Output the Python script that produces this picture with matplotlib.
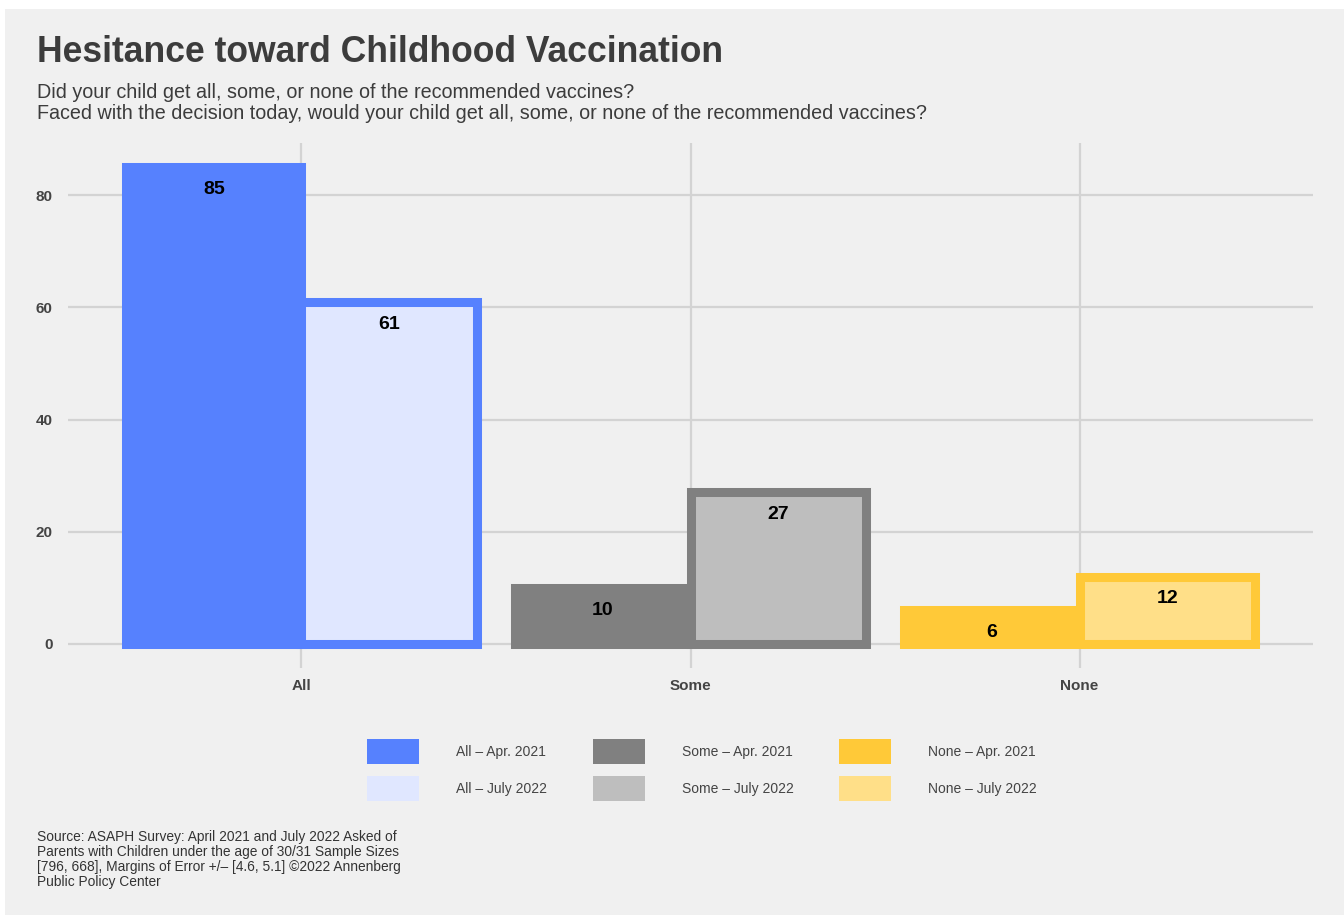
import matplotlib
matplotlib.use("Agg")
import matplotlib.pyplot as plt
from matplotlib.patches import Rectangle, Patch
import numpy as np

plt.rcParams['font.family'] = ['Liberation Sans', 'DejaVu Sans']

categories = ["All", "Some", "None"]
apr2021 = [85, 10, 6]
jul2022 = [61, 27, 12]
yticks = [0, 20, 40, 60, 80]
apr_colors = ["#5681FE", "#808080", "#FFC938"]
jul_colors = ["#E0E7FF", "#BEBEBE", "#FFDF88"]
legend_labels_apr = ["All \u2013 Apr. 2021", "Some \u2013 Apr. 2021", "None \u2013 Apr. 2021"]
legend_labels_jul = ["All \u2013 July 2022", "Some \u2013 July 2022", "None \u2013 July 2022"]

title = "Hesitance toward Childhood Vaccination"
subtitle = ("Did your child get all, some, or none of the recommended vaccines?\n"
            "Faced with the decision today, would your child get all, some, or none of the recommended vaccines?")
source = ("Source: ASAPH Survey: April 2021 and July 2022 Asked of\n"
          "Parents with Children under the age of 30/31 Sample Sizes\n"
          "[796, 668], Margins of Error +/\u2013 [4.6, 5.1] \u00a92022 Annenberg\n"
          "Public Policy Center")

W, H = 1344, 915
fig = plt.figure(figsize=(W/100, H/100), dpi=100)
fig.patch.set_facecolor("white")
bg = "#F0F0F0"
fig.patches.append(Rectangle((5/W, 0), 1 - 5/W, (H-9)/H, transform=fig.transFigure,
                             facecolor=bg, edgecolor="none", zorder=-10))

# axes from x=68..1313, y=143..668 (pixels from top)
ax = fig.add_axes([68/W, 1 - 668/H, (1313-68)/W, (668-143)/H])
ax.set_facecolor(bg)
ax.patch.set_alpha(0)
for s in ax.spines.values():
    s.set_visible(False)

x = np.arange(len(categories))
w = 0.45
lw = 6.5
ax.bar(x - w/2, apr2021, width=w, color=apr_colors, edgecolor=apr_colors, linewidth=lw, zorder=3)
ax.bar(x + w/2, jul2022, width=w, color=jul_colors, edgecolor=apr_colors, linewidth=lw, zorder=3)

for xi, v in zip(x - w/2, apr2021):
    ax.annotate(str(v), (xi, v), xytext=(0, -10), textcoords="offset points",
                ha="center", va="top", fontsize=14, fontweight="bold", color="black", zorder=5)
for xi, v in zip(x + w/2, jul2022):
    ax.annotate(str(v), (xi, v), xytext=(0, -10), textcoords="offset points",
                ha="center", va="top", fontsize=14, fontweight="bold", color="black", zorder=5)

ax.set_xlim(-0.6, 2.6)
ax.set_ylim(-4.3, 89.3)
ax.set_yticks(yticks)
ax.set_xticks(x)
ax.set_xticklabels(categories)
ax.grid(True, color="#D3D3D3", linewidth=1.6, zorder=0)
ax.set_axisbelow(True)
ax.tick_params(axis="both", length=0, labelsize=11, labelcolor="#444444")
ax.tick_params(axis="y", pad=11)
ax.tick_params(axis="x", pad=8)
for lab in ax.get_xticklabels() + ax.get_yticklabels():
    lab.set_fontweight("bold")

fig.text(37/W, 1 - 52/H, title, fontsize=25.6, fontweight="bold", color="#3C3C3C",
         ha="left", va="center")
fig.text(37/W, 1 - 83/H, subtitle, fontsize=14.2, color="#3C3C3C", ha="left", va="top",
         linespacing=1.16)
fig.text(37/W, 1 - 830/H, source, fontsize=9.9, color="#333333", ha="left", va="top",
         linespacing=1.1)

handles = []
labels = []
for ca, cj, la, lj in zip(apr_colors, jul_colors, legend_labels_apr, legend_labels_jul):
    handles += [Patch(facecolor=ca, edgecolor="none"), Patch(facecolor=cj, edgecolor="none")]
    labels += [la, lj]
leg = fig.legend(handles, labels, ncol=3, loc="center", bbox_to_anchor=(702/W, 1 - 770/H),
                 frameon=False, fontsize=10, handlelength=3.75, handleheight=2.39,
                 handletextpad=2.66, columnspacing=3.3, labelspacing=0.88)
for t in leg.get_texts():
    t.set_color("#444444")

fig.savefig("out.png", dpi=100, facecolor=fig.get_facecolor())
